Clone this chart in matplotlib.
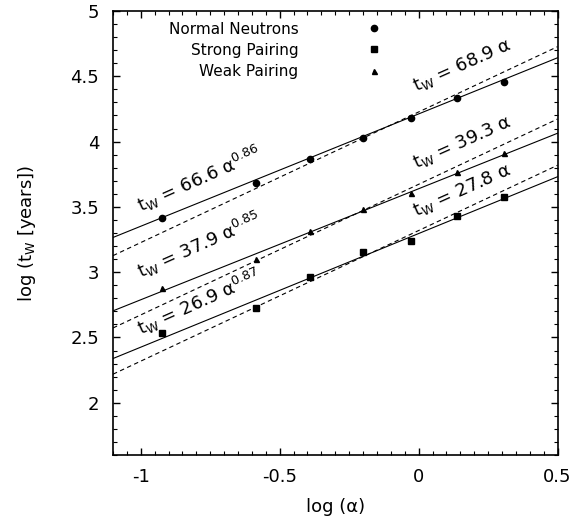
import numpy as np
import matplotlib
matplotlib.use('Agg')
import matplotlib.pyplot as plt

plt.rcParams['font.family'] = ['DejaVu Sans']
plt.rcParams['mathtext.fontset'] = 'dejavusans'

# log(alpha) values
log_alpha = [-0.925, -0.587, -0.391, -0.200, -0.029, 0.139, 0.308]

# log(t_w) for each model
normal = [3.417, 3.685, 3.867, 4.030, 4.180, 4.336, 4.454]
strong = [2.532, 2.723, 2.960, 3.152, 3.236, 3.430, 3.575]
weak = [2.879, 3.101, 3.319, 3.484, 3.610, 3.767, 3.912]

# fits: power law (solid) and linear (dashed), intercepts at log(alpha)=0
pow_exp = [0.86, 0.87, 0.85]
pow_icpt = [4.212, 3.296, 3.639]
lin_icpt = [4.227, 3.319, 3.673]
pow_coef = ['66.6', '26.9', '37.9']
lin_coef = ['68.9', '27.8', '39.3']

names = ['Normal Neutrons', 'Strong Pairing', 'Weak Pairing']
markers = ['o', 's', '^']
msizes = [4.5, 5.0, 3.6]

fig = plt.figure(figsize=(5.74, 5.25), dpi=100)
ax = fig.add_axes([0.1969, 0.1333, 0.7744, 0.8457])

xl = np.array([-1.1, 0.5])
for i in range(3):
    ax.plot(xl, pow_icpt[i] + pow_exp[i] * xl, '-', color='black', lw=0.8)
    ax.plot(xl, lin_icpt[i] + xl, '--', color='black', lw=0.8, dashes=(4, 3))

series = [normal, strong, weak]
for i in range(3):
    ax.plot(log_alpha, series[i], linestyle='none', marker=markers[i],
            ms=msizes[i], color='black', label=names[i])

# fit labels
lab_kw = dict(rotation=24, rotation_mode='anchor', ha='left', va='baseline', fontsize=13)
left_pos = [(-1.0, 3.46), (-1.0, 2.515), (-1.0, 2.95)]
right_pos = [(-0.008, 4.382), (-0.008, 3.425), (-0.008, 3.795)]
for i in range(3):
    ax.text(left_pos[i][0], left_pos[i][1],
            't$_\\mathregular{W}$ = ' + pow_coef[i] + ' α$^\\mathregular{' + str(pow_exp[i]) + '}$',
            **lab_kw)
    ax.text(right_pos[i][0], right_pos[i][1],
            't$_\\mathregular{W}$ = ' + lin_coef[i] + ' α', **lab_kw)

ax.set_xlim(-1.1, 0.5)
ax.set_ylim(1.6, 5)
ax.set_xticks([-1, -0.5, 0, 0.5])
ax.set_xticklabels(['-1', '-0.5', '0', '0.5'])
ax.set_yticks([2, 2.5, 3, 3.5, 4, 4.5, 5])
ax.set_yticklabels(['2', '2.5', '3', '3.5', '4', '4.5', '5'])
ax.set_xticks(np.arange(-1.1, 0.51, 0.05), minor=True)
ax.set_yticks(np.arange(1.6, 5.01, 0.1), minor=True)
ax.tick_params(which='both', direction='in', top=True, right=True, labelsize=13)
ax.tick_params(which='major', length=5, width=1)
ax.tick_params(which='minor', length=3, width=0.8)
ax.tick_params(axis='x', pad=9)
ax.tick_params(axis='y', pad=10)
for s in ax.spines.values():
    s.set_linewidth(1.2)

ax.set_xlabel('log (α)', fontsize=13, labelpad=9)
ax.set_ylabel('log (t$_\\mathregular{W}$ [years])', fontsize=13, labelpad=23)

ax.legend(loc='upper right', bbox_to_anchor=(0.621, 0.976), frameon=False,
          markerfirst=False, fontsize=11, handlelength=2, handletextpad=3.93,
          labelspacing=0.4, borderpad=0, borderaxespad=0)

fig.savefig('out.png', dpi=100)
